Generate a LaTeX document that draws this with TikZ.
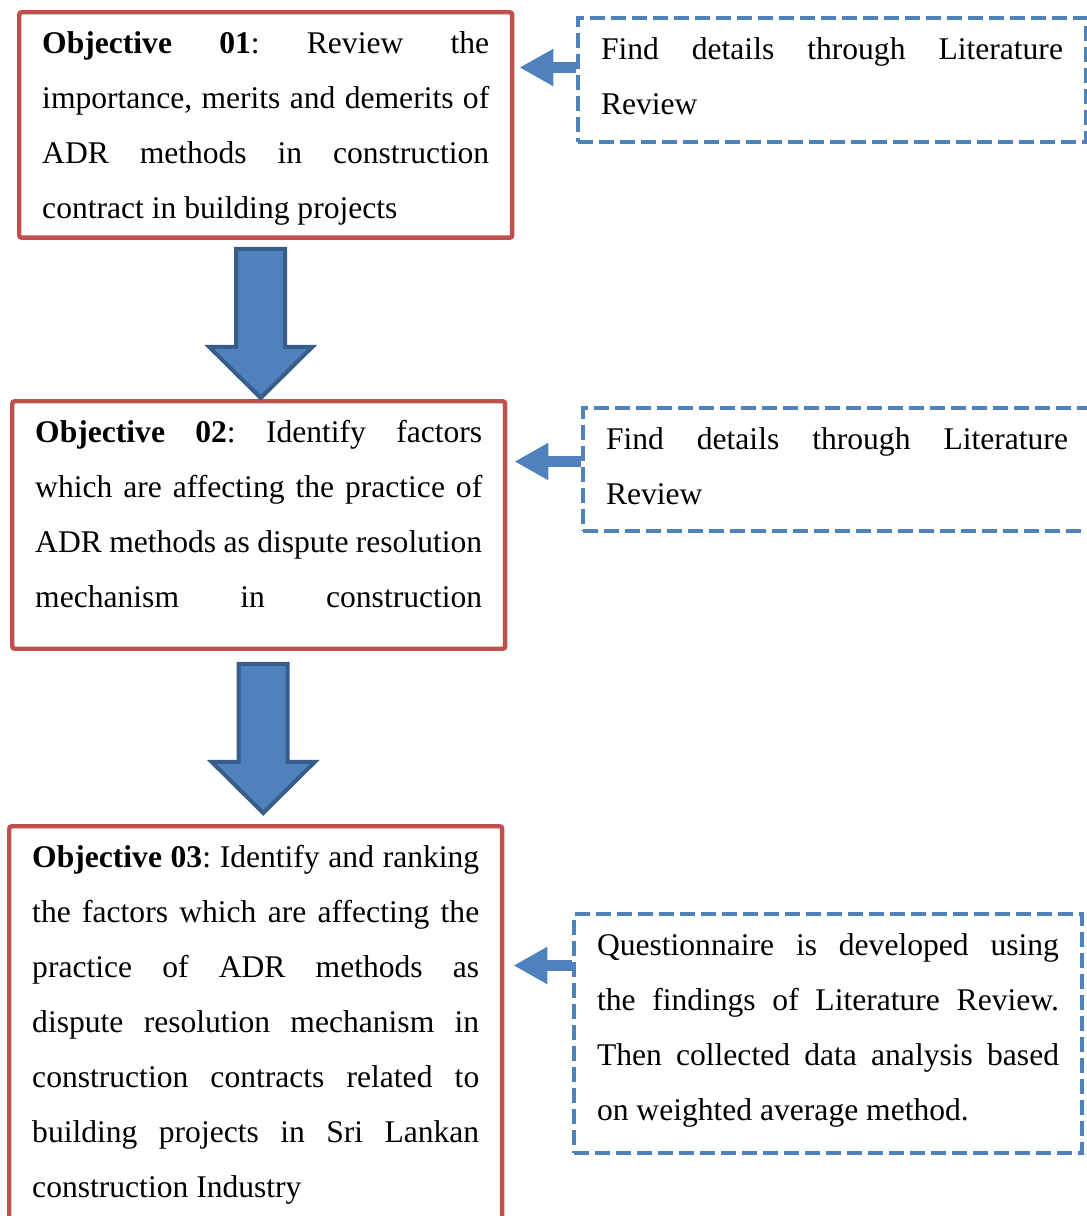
\documentclass[tikz,border=0pt]{standalone}
\usepackage{fontspec}
\setmainfont{Liberation Serif}
\usepackage{xcolor}
\usepackage{tikz}
\usetikzlibrary{arrows.meta,calc}

\definecolor{boxred}{HTML}{C0504D}
\definecolor{boxblue}{HTML}{4F81BD}
\definecolor{edgeblue}{HTML}{385D8A}

\newcommand{\boxfont}{\fontsize{12}{20.9}\selectfont\frenchspacing\tolerance=10000\relax\hyphenpenalty=10000\relax}
\newcommand{\boxtopstrut}{\vrule height 15.77pt depth 0pt width 0pt\relax}
\newcommand{\boxbotstrut}[1]{\vrule height 0pt depth #1 width 0pt\relax}

\begin{document}
\begin{tikzpicture}[
    x=0.38pt, y=-0.38pt,
    objbox/.style={rectangle,draw=boxred,line width=1.7pt,rounded corners=1pt,text width=169.86pt,inner xsep=8.74pt,inner ysep=0pt,align=justify,anchor=north west,font=\boxfont},
    findbox/.style={rectangle,draw=boxblue,line width=1.52pt,dash pattern=on 5.7pt off 2.28pt,text width=175.56pt,inner xsep=8.74pt,inner ysep=0pt,align=justify,anchor=north west,font=\boxfont},
    blockarrow/.style={draw=edgeblue,fill=boxblue,line width=1.52pt},
    linkarrow/.style={-{Triangle[length=12.9pt,width=13.3pt]},draw=boxblue,fill=boxblue,line width=4.18pt}
]
\useasboundingbox (0,0) rectangle (1087,1216);
\clip (0,0) rectangle (1087,1216);

% objectives
\node[objbox] (obj1) at (17,10) {\boxtopstrut\textbf{Objective 01}: Review the\linebreak importance, merits and demerits of\linebreak ADR methods in construction\linebreak contract in building projects\boxbotstrut{7.22pt}};
\node[objbox] (obj2) at (10,399) {\parfillskip=0pt\relax\boxtopstrut\textbf{Objective 02}: Identify factors\linebreak which are affecting the practice of\linebreak ADR methods as dispute resolution\linebreak mechanism in construction\boxbotstrut{15.58pt}\par};
\node[objbox] (obj3) at (7,824) {\boxtopstrut\textbf{Objective 03}: Identify and ranking\linebreak the factors which are affecting the\linebreak practice of ADR methods as\linebreak dispute resolution mechanism in\linebreak construction contracts related to\linebreak building projects in Sri Lankan\linebreak construction Industry\boxbotstrut{11.4pt}};

% methods
\node[findbox] (lit1) at (576,16) {\boxtopstrut Find details through Literature\linebreak Review\boxbotstrut{10.26pt}};
\node[findbox] (lit2) at (581,406) {\boxtopstrut Find details through Literature\linebreak Review\boxbotstrut{9.88pt}};
\node[findbox] (quest) at (572,912) {\boxtopstrut Questionnaire is developed using\linebreak the findings of Literature Review.\linebreak Then collected data analysis based\linebreak on weighted average method.\boxbotstrut{12.16pt}};

% big arrows between objectives
\draw[blockarrow] ($(obj1.south)+(-5,9)$) -- ++(24.5,0) -- ++(0,98) -- ++(27,0) -- ++(-51.5,51) -- ++(-51.5,-51) -- ++(27,0) -- ++(0,-98) -- cycle;
\draw[blockarrow] ($(obj2.south)+(4.5,13)$) -- ++(24.5,0) -- ++(0,98) -- ++(27,0) -- ++(-51.5,51) -- ++(-51.5,-51) -- ++(27,0) -- ++(0,-98) -- cycle;

% small arrows into objectives
\draw[linkarrow] ($(lit1.north west)+(0,51.5)$) -- ($(obj1.east |- lit1.north west)+(5,51.5)$);
\draw[linkarrow] ($(lit2.north west)+(0,55.5)$) -- ($(obj2.east |- lit2.north west)+(7,55.5)$);
\draw[linkarrow] ($(quest.north west)+(0,53.5)$) -- ($(obj3.east |- quest.north west)+(9,53.5)$);
\end{tikzpicture}
\end{document}
